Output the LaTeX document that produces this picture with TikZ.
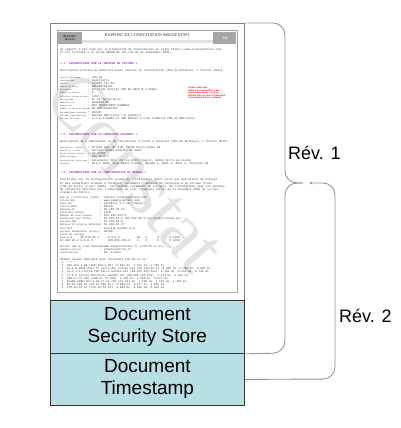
\documentclass[tikz,border=0pt]{standalone}
\usepackage{fontspec}
\setmainfont{Liberation Sans}
\newfontfamily\rserif{Liberation Serif}
\newfontfamily\rmono{Liberation Mono}
\usetikzlibrary{arrows.meta}
\definecolor{boxfill}{RGB}{184,223,227}
\definecolor{secviolet}{RGB}{150,50,200}
\definecolor{linegray}{RGB}{150,150,150}
\newcommand\kfa{\rmono\fontsize{2.0}{3}\selectfont}
\newcommand\kfc{\rmono\fontsize{2.5}{3}\selectfont}
\newcommand\KA[4]{\node[bt] (#1) at (60,#2) {\makebox[28pt][l]{\kfa #3}: #4};}
\newcommand\KC[4]{\node[bt] (#1) at (60,#2) {\makebox[40pt][l]{\kfc #3}: #4};}
\newcommand\TL[3]{\node[bt] (#1) at (60,#2) {#3};}
\begin{document}
\begin{tikzpicture}[x=1pt,y=-1pt,
  bt/.style={anchor=base west, inner sep=0, outer sep=0, text height=2pt, text depth=0.5pt, font=\rmono\fontsize{2.85}{3}\selectfont, text=black!75},
  sect/.style={bt, text=secviolet, font=\rmono\bfseries\fontsize{2.85}{3}\selectfont},
  redt/.style={anchor=base west, inner sep=0, text height=1.7pt, text depth=0.4pt, font=\bfseries\fontsize{2.3}{2.5}\selectfont, text=red},
  layer/.style={draw=black!80, line width=0.8pt, fill=boxfill, minimum width=194pt, inner sep=0, align=center, font=\fontsize{19}{22}\selectfont, anchor=north west},
  bracket/.style={draw=linegray, line width=0.9pt, rounded corners=12pt},
  revlabel/.style={anchor=west, inner sep=0, font=\fontsize{18}{20}\selectfont}]
\useasboundingbox (0,0) rectangle (400,428);
\fill[white] (0,0) rectangle (400,428);
% report page frame
\node[draw=black!50, line width=1.3pt, minimum width=194pt, minimum height=277pt, inner sep=0, anchor=north west, fill=white] (report) at (50,23) {};
\draw[black!35, line width=0.4pt] (57,30) rectangle (237,292);
% watermark
\node[text=black!11, font=\rserif\fontsize{76}{76}\selectfont, rotate=-50, inner sep=0] (wm) at (136,172) {Constat};
% header
\node[fill=black!35, minimum width=25pt, minimum height=12pt, inner sep=0, anchor=north west, align=center, font=\rserif\bfseries\fontsize{2.8}{3.2}\selectfont, text=black!85] (datebox) at (57,32) {08/04/2015\\14:14:19};
\node[fill=black!35, minimum width=23pt, minimum height=12pt, inner sep=0, anchor=north west, text=white, font=\rserif\bfseries\fontsize{4}{4}\selectfont] (pagenum) at (213,32) {1/4};
\fill[black!12] (82,40) rectangle (213,43.5);
\node[inner sep=0, font=\rserif\fontsize{4.2}{4.5}\selectfont, text=black!80] (title) at (147,35.5) {RAPPORT DE CONSTATATION 00062[EXTSP]};
% intro
\TL{i1}{50.3}{Ce rapport a été créé par la plateforme de constatation en ligne https://www.exaprevention.com.}
\TL{i2}{53.4}{Il est conforme à la norme AFNOR NF Z67-147 du 11 septembre 2010.}
% section 1
\node[sect] (h1) at (60,64) {« 1. INFORMATIONS SUR LE SERVEUR DE CAPTURE »};
\TL{d1}{71}{Description précise du matériel ayant réalisé la constatation (35Z de Mulhouse, 7 février 2015).}
\KA{a1}{78}{Type d'ordinateur}{x86\_64}
\KA{a2}{81.2}{Constructeur}{Supermicro}
\KA{a3}{84.4}{Modèle}{X10DRI-T4+/DT}
\KA{a4}{87.5}{Numéro de série}{0MF45B7G1234}
\KA{a5}{90.7}{Processeur}{Intel(R) Xeon(R) CPU E5-2620 @ 2.40GHz}
\KA{a6}{93.9}{Nombre de coeurs}{8}
\KA{a7}{97.1}{Interface réseau active}{eth0}
\KA{a8}{100.3}{Adresse MAC}{0c:c4:7a:59:19:9c}
\KA{a9}{103.4}{Mémoire vive}{8192000 KB}
\KA{a10}{106.6}{Disque dur}{WDC WD5003ABYX-01WERA1}
\KA{a11}{109.8}{Numéro de série du disque}{WD-WMAYP0187206}
\KA{a12}{113}{Périphériques externes}{AUCUN}
\KA{a13}{116.2}{Système d'exploitation}{Debian GNU/Linux 7.8 (wheezy)}
\KA{a14}{119.3}{Version du noyau}{3.2.0-4-amd64 \#1 SMP Debian 3.2.65-1+deb7u2 x86\_64 GNU/Linux}
\node[redt] (r1) at (188,88.8) {Serveur physique};
\node[redt] (r2) at (188,91.3) {dédié à la constatation, sans};
\node[redt] (r3) at (188,93.8) {aucun autre service actif ni};
\node[redt] (r4) at (188,96.3) {logiciel tiers en cours d'exécution};
\node[redt] (r5) at (188,98.8) {sur la machine (hors système)};
% section 2
\node[sect] (h2) at (60,135) {« 2. INFORMATIONS SUR LA CONNEXION INTERNET »};
\TL{d2}{142}{Description de l'abonnement et du fournisseur d'accès à Internet (35Z de Mulhouse, 7 février 2015).}
\KA{b1}{148}{Fournisseur d'accès}{Online SAS, BP 438, 75366 Paris Cedex 08}
\KA{b2}{151.3}{Nature de l'offre}{Serveur dédié Dedibox SC 2013}
\KA{b3}{154.6}{No de contrat/serveur}{sd-47403}
\KA{b4}{157.9}{Bande passante}{200 Mbit/s}
\KA{b5}{161.2}{Localisation du serveur}{Datacenter DC3, 28 rue Edith Cavell, 94400 Vitry-sur-Seine}
\KA{b6}{164.5}{Position}{Salle 3S1A, Zone Baies Client, Rangée 3, Baie 3, Bloc 3, Position 18}
% section 3
\node[sect] (h3) at (60,173.3) {« 3. INFORMATIONS SUR LA CONFIGURATION DU RESEAU »};
\TL{p1}{180.7}{Précisions sur la configuration réseau de l'ordinateur ayant servi aux opérations de constat}
\TL{p2}{184}{et des conditions d'accès à Internet, notamment l'adresse de connexion à un serveur proxy}
\TL{p3}{187.3}{(TGI de Paris, 4 mars 2005). Ceci permet notamment de recouper les informations avec les données}
\TL{p4}{190.6}{de connexion fournies par l'hébergeur du site litigieux (arrêt du 17 novembre 2006 de la cour}
\TL{p5}{193.9}{d'appel de Paris).}
\KC{c1}{198.5}{Nom de l'ordinateur (FQDN)}{robotcs.exaprevention.com}
\KC{c2}{201.55}{Pilote NSS}{www.exaprevention.com}
\KC{c3}{204.6}{Pare-feu}{iptables 1.4.14 (legacy)}
\KC{c4}{207.65}{Client DHCP}{AUCUN}
\KC{c5}{210.7}{Adresse IP}{62.210.36.27}
\KC{c6}{213.75}{Interface réseau}{eth0}
\KC{c7}{216.8}{Masque de sous-réseau}{255.255.255.0}
\KC{c8}{219.85}{Passerelle par défaut}{62.210.36.1 (62-210-36-1.rev.poneytelecom.eu)}
\KC{c9}{222.9}{Serveur DNS}{62.210.16.6}
\KC{c10}{225.95}{Adresse IP externe détectée}{62.210.36.27}
\KC{c11}{229}{Pool NTP}{checkip.dyndns.org}
\KC{c12}{232.05}{Serveur mandataire (proxy)}{AUCUN}
\KC{c13}{235.1}{Table de routage}{}
\TL{rt1}{238.2}{0.0.0.0~~~~~62.210.36.1~~~~~0.0.0.0~~~~~~~~~~UG~~~0~~~~~~0~~~~~~0~eth0}
\TL{rt2}{241.2}{62.210.36.0~0.0.0.0~~~~~~~~~255.255.255.0~~~~U~~~~0~~~~~~0~~~~~~0~eth0}
\KC{w1}{247}{Serveur web de l'URL demandée}{www.exaprevention.fr (178.33.xx.xx)}
\KC{w2}{250.2}{Domaine racine}{exaprevention.fr}
\KC{w3}{253.4}{Localisation}{FR, France}
\TL{tr0}{260.3}{Chemin réseau emprunté pour atteindre 178.33.xx.xx :}
\TL{tr1}{263.6}{~1~~* * *}
\TL{tr2}{266.7}{~2~~195.154.1.28 (195.154.1.28)~~0.991 ms~~1.213 ms~~1.320 ms}
\TL{tr3}{269.8}{~3~~ae-5-0.dsw2.d1ii.fr.vitry-dcs.online.net (62.210.35.5)~~0.386 ms~~0.495 ms~~0.587 ms}
\TL{tr4}{272.9}{~4~~te-1-1-1.tcore1.PVU-Paris.as6453.net (80.231.153.133)~~0.784 ms~~0.812 ms~~0.745 ms}
\TL{tr5}{276}{~5~~if-9-2.tcore2.PVU-Paris.as6453.net (80.231.153.114)~~1.224 ms~~1.245 ms}
\TL{tr6}{279.1}{~6~~198.27.73.180 (198.27.73.180)~~1.176 ms~~1.150 ms~~0.977 ms}
\TL{tr7}{282.2}{~7~~be100-1096.th2-1-a9.fr.eu (91.121.131.9)~~1.109 ms~~1.110 ms~~1.120 ms}
\TL{tr8}{285.3}{~8~~94.23.122.51 (94.23.122.51)~~4.093 ms~~4.077 ms~~4.053 ms}
\TL{tr9}{288.4}{~9~~178.33.14.12 (178.33.14.12)~~4.099 ms~~4.045 ms~~4.025 ms}
% layers
\node[layer, minimum height=53pt] (sss) at (50,300) {Document\\Security Store};
\node[layer, minimum height=52pt] (ts) at (50,353) {Document\\Timestamp};
% brackets
\coordinate (join) at (303,183);
\coordinate (tip) at (309,183);
\draw[bracket] (report.north east) -- (285,23) -- (285,183) -- (join);
\draw[bracket] (sss.south east) -- (285,353) -- (285,183) -- (join);
\draw[bracket, -{Stealth[length=3.5pt,width=3pt]}] (ts.east) -- (335,379) -- (335,183) -- (tip);
\node[revlabel] (rev1) at (288,153) {Rév. 1};
\node[revlabel] (rev2) at (339,316) {Rév. 2};
\end{tikzpicture}
\end{document}
